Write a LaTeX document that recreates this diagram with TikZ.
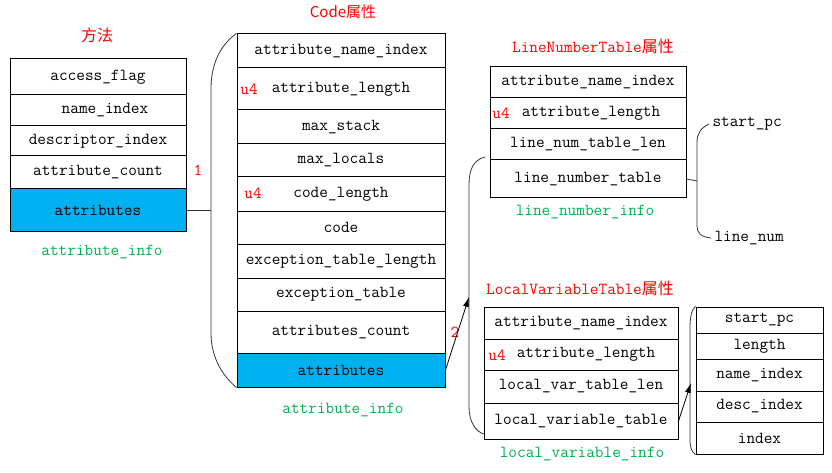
\documentclass[tikz,border=0pt]{standalone}
\usepackage{fontspec}
\newfontfamily\cjk{Noto Sans CJK SC}
\usetikzlibrary{arrows.meta}
\definecolor{attrblue}{HTML}{00B0F0}
\definecolor{infogreen}{HTML}{00B050}
\definecolor{notered}{HTML}{FF0000}
\tikzset{
  cell/.style={draw,rectangle,inner sep=0pt,line width=1pt,
    font=\ttfamily\fontsize{16.8}{18}\selectfont},
  attr/.style={cell,fill=attrblue},
  methodcell/.style={cell,minimum width=176pt},
  codecell/.style={cell,minimum width=208pt},
  lntcell/.style={cell,minimum width=196pt},
  lvtcell/.style={cell,minimum width=194pt},
  lvicell/.style={cell,minimum width=127pt},
  title/.style={text=notered,font=\ttfamily\fontsize{16.8}{18}\selectfont},
  info/.style={text=infogreen,font=\ttfamily\fontsize{16.8}{18}\selectfont},
  rednote/.style={text=notered,font=\ttfamily\fontsize{16.8}{18}\selectfont},
  plain/.style={font=\ttfamily\fontsize{16.8}{18}\selectfont},
  brace/.style={line width=0.8pt,black!80},
}
\begin{document}
\begin{tikzpicture}[>={Latex[length=10pt,width=6pt]},x=1pt,y=-1pt]
\useasboundingbox (0,0) rectangle (832,473);
% method_info
\node[title] (mtitle) at (97,35) {\cjk\fontsize{16}{18}\selectfont 方法};
\node[methodcell,minimum height=36pt] (m1) at (98,77) {access\_flag};
\node[methodcell,minimum height=31pt] (m2) at (98,110.5) {\hspace{14pt}name\_index};
\node[methodcell,minimum height=30pt] (m3) at (98,141) {descriptor\_index};
\node[methodcell,minimum height=33pt] (m4) at (98,172.5) {attribute\_count};
\node[methodcell,attr,minimum height=42pt] (m5) at (98,210) {attributes};
\node[info] (minfo) at (102,252) {attribute\_info};
\node[rednote] (mone) at (198,170) {1};

% Code attribute
\node[title] (ctitle) at (343,12) {\cjk\fontsize{15}{18}\selectfont Code属性};
\node[codecell,minimum height=34pt] (c1) at (341,51) {attribute\_name\_index};
\node[codecell,minimum height=42pt] (c2) at (341,89) {attribute\_length};
\node[codecell,minimum height=34pt] (c3) at (341,127) {max\_stack};
\node[codecell,minimum height=33pt] (c4) at (341,160.5) {max\_locals};
\node[codecell,minimum height=34pt] (c5) at (341,194) {code\_length};
\node[codecell,minimum height=33pt] (c6) at (341,227.5) {code};
\node[codecell,minimum height=34pt] (c7) at (341,261) {exception\_table\_length};
\node[codecell,minimum height=33pt] (c8) at (341,294.5) {exception\_table};
\node[codecell,minimum height=42pt] (c9) at (341,332) {attributes\_count};
\node[codecell,attr,minimum height=34pt] (c10) at (341,370) {attributes};
\node[rednote] (cufour) at (249,89) {u4};
\node[rednote] (clufour) at (253,193) {u4};
\node[rednote] (ctwo) at (455,332) {2};
\node[info] (cinfo) at (343,410) {attribute\_info};

% LineNumberTable
\node[title] (ltitle) at (593,46) {LineNumberTable{\cjk\fontsize{16}{18}\selectfont 属性}};
\node[lntcell,minimum height=31pt] (l1) at (588,82.5) {attribute\_name\_index};
\node[lntcell,minimum height=31pt] (l2) at (588,113.5) {\hspace{6pt}attribute\_length};
\node[lntcell,minimum height=31pt] (l3) at (588,144.5) {line\_num\_table\_len};
\node[lntcell,minimum height=38pt] (l4) at (588,179) {line\_number\_table};
\node[rednote] (lufour) at (501,113) {u4};
\node[info] (linfo) at (585,212) {line\_number\_info};
\node[plain,anchor=west] (lstart) at (709,124) {start\_pc};
\node[plain,anchor=west] (lnum) at (711,238) {line\_num};

% LocalVariableTable
\node[title] (vtitle) at (580,288) {LocalVariableTable{\cjk\fontsize{16}{18}\selectfont 属性}};
\node[lvtcell,minimum height=32pt] (v1) at (581,323) {attribute\_name\_index};
\node[lvtcell,minimum height=31pt] (v2) at (581,354.5) {\hspace{10pt}attribute\_length};
\node[lvtcell,minimum height=33pt] (v3) at (581,386.5) {local\_var\_table\_len};
\node[lvtcell,minimum height=36pt] (v4) at (581,421) {local\_variable\_table};
\node[rednote] (vufour) at (497,355) {u4};
\node[info] (vinfo) at (582,454) {local\_variable\_info};

% local_variable_info
\node[lvicell,minimum height=26pt] (i1) at (759.5,320) {start\_pc};
\node[lvicell,minimum height=26pt] (i2) at (759.5,346) {length};
\node[lvicell,minimum height=32pt] (i3) at (759.5,375) {name\_index};
\node[lvicell,minimum height=31pt] (i4) at (759.5,406.5) {desc\_index};
\node[lvicell,minimum height=32pt] (i5) at (759.5,438) {index};

% braces and links
\coordinate (cjoin) at (211,210);
\coordinate (ctop) at (211,88);
\coordinate (cbot) at (211,333);
\draw[brace] (m5.east) -- (cjoin);
\draw[brace] (c1.north west) .. controls (224,42) and (211,60) .. (ctop) -- (cbot)
  .. controls (211,360) and (225,378) .. (c10.south west);

\coordinate (vtop) at (485,157);
\coordinate (vhit) at (469,297);
\coordinate (vbot) at (484,434);
\draw[brace] (vtop) .. controls (473,160) and (469,170) .. (469,185) -- (469,407)
  .. controls (469,422) and (476,432) .. (vbot);
\draw[->,line width=0.8pt] (c10.east) -- (vhit);

\coordinate (ljoin) at (697,181);
\draw[brace] (l4.east) -- (ljoin);
\draw[brace] (lstart.west) .. controls (701,128) and (697,133) .. (697,142) -- (697,226)
  .. controls (697,233) and (701,237) .. (lnum.west);

\coordinate (ihit) at (691,383);
\draw[brace] (i1.north west) .. controls (692,309) and (690,316) .. (690,328) -- (690,440)
  .. controls (690,448) and (692,452) .. (i5.south west);
\draw[->,line width=0.8pt] (v4.east) -- (ihit);
\end{tikzpicture}
\end{document}
